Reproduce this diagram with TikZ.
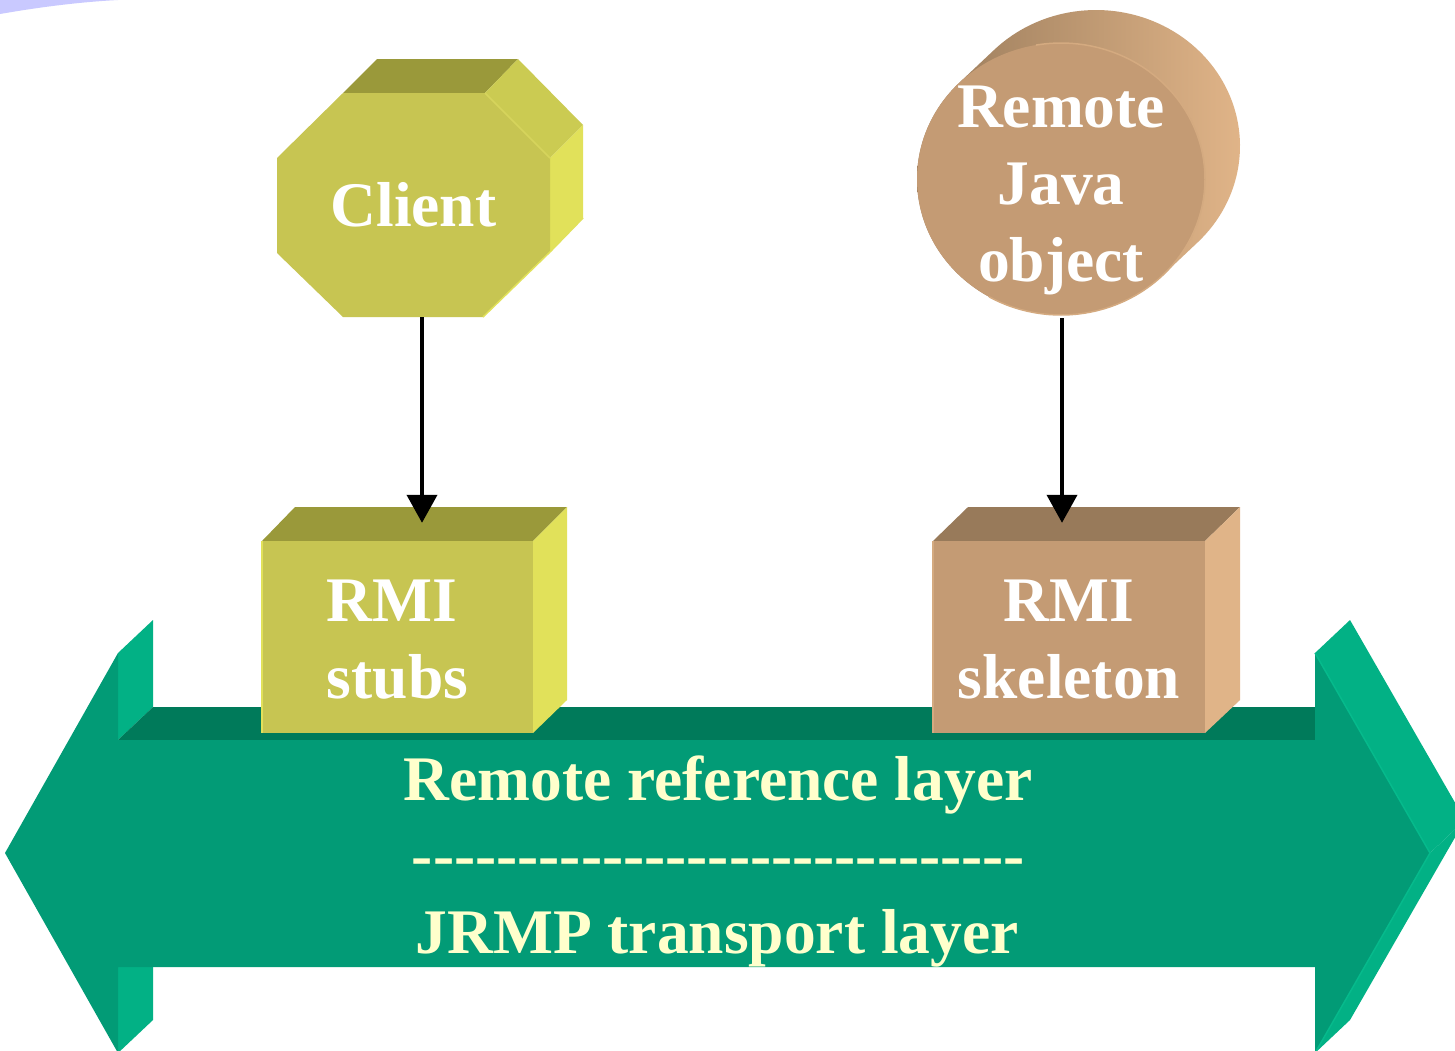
\documentclass[tikz,border=0pt]{standalone}
\usepackage{fontspec}
\setmainfont{Liberation Serif}
\usetikzlibrary{arrows.meta,calc}

% palette
\definecolor{lavender}{RGB}{201,201,255}
\definecolor{olfront}{RGB}{199,197,82}
\definecolor{oltop}{RGB}{154,153,58}
\definecolor{olside}{RGB}{225,225,90}
\definecolor{olbevel}{RGB}{203,203,82}
\definecolor{olrim}{RGB}{214,212,92}
\definecolor{brfront}{RGB}{196,155,116}
\definecolor{brtop}{RGB}{152,122,90}
\definecolor{brside}{RGB}{224,180,136}
\definecolor{brrim}{RGB}{212,170,128}
\definecolor{gfront}{RGB}{2,155,118}
\definecolor{gtop}{RGB}{0,122,90}
\definecolor{gside}{RGB}{2,177,133}
\definecolor{gedge}{RGB}{6,186,140}
\definecolor{layertext}{RGB}{255,255,204}

\tikzset{
  lbl/.style={font=\fontsize{63.5pt}{77pt}\selectfont\bfseries, text=white,
              align=center, inner sep=0pt},
  layerlbl/.style={lbl, text=layertext, anchor=base},
  conn/.style={line width=4pt, -{Triangle[width=30pt,length=28pt]}},
}

\begin{document}
\begin{tikzpicture}[x=1pt,y=-1pt]
\useasboundingbox (0,0) rectangle (1455,1050);
\clip (0,0) rectangle (1455,1050);
\fill[white] (0,0) rectangle (1455,1050);

% corner swoosh
\fill[lavender] (0,0) -- (0,14) .. controls (40,7) and (80,2) .. (118,0) -- cycle;

% ---------- layer arrow (3D, double headed) ----------
% visible depth faces
\fill[gside] (118,653) -- (153,620) -- (153,707) -- (118,740) -- cycle;
\fill[gside] (118,967) -- (153,934) -- (153,1020) -- (118,1053) -- cycle;
\fill[gtop]  (118,740) -- (153,707) -- (1350,707) -- (1315,740) -- cycle;
\fill[gside] (1315,653) -- (1350,620) -- (1465,820) -- (1430,853) -- cycle;
\fill[gside] (1430,853) -- (1465,820) -- (1350,1020) -- (1315,1053) -- cycle;
% front face
\fill[gfront] (5,853) -- (118,653) -- (118,740) -- (1315,740) -- (1315,653)
  -- (1430,853) -- (1315,1053) -- (1315,967) -- (118,967) -- (118,1053) -- cycle;
\draw[gedge, line width=1.5pt] (1315,653) -- (1430,853) -- (1315,1053);

% ---------- client octagon ----------
\fill[oltop] (343,93) -- (377,59) -- (518,59) -- (485,93) -- cycle;
\fill[olbevel] (485,93) -- (518,59) -- (583,125) -- (550,158) -- cycle;
\fill[olside] (550,158) -- (583,125) -- (583,218) -- (550,252) -- cycle;
\fill[olfront] (343,93) -- (485,93) -- (550,158) -- (550,252) -- (483,317)
  -- (343,317) -- (277,253) -- (277,158) -- cycle;
\draw[olrim, line width=1.5pt] (485,93) -- (550,158);
\draw[olside, line width=1.5pt] (550,252) -- (583,218);
\draw[olside, line width=1.5pt] (550,252) -- (483,317);
\node[lbl, minimum width=273pt, minimum height=224pt] (client) at (413.5,205) {Client};

% ---------- remote object cylinder ----------
\shade[left color=brtop, right color=brside]
  (959,83) -- plot[domain=135:-45,samples=80] ({1096+144*cos(\x)},{146-136*sin(\x)})
  -- (1163,275) -- plot[domain=-45:-225,samples=80] ({1061+144*cos(\x)},{179-136*sin(\x)})
  -- cycle;
\fill[brfront] (1061,179) ellipse [x radius=144, y radius=136];
\draw[brrim, line width=1.5pt] plot[domain=100:-120,samples=80] ({1061+144*cos(\x)},{179-136*sin(\x)});
\node[lbl, minimum width=288pt, minimum height=256pt] (rjo) at (1061,190) {Remote\\Java\\object};

% ---------- RMI stubs box ----------
\fill[oltop] (262,541) -- (295,507) -- (567,507) -- (533,541) -- cycle;
\fill[olside] (533,541) -- (567,507) -- (567,700) -- (533,733) -- cycle;
\fill[olfront] (262,541) rectangle (533,733);
\draw[olside, line width=1.5pt] (262,541) -- (262,733);
\node[lbl, align=left, minimum width=271pt, minimum height=192pt] (stubs) at (397.5,640) {RMI\\stubs};

% ---------- RMI skeleton box ----------
\fill[brtop] (933,541) -- (968,507) -- (1240,507) -- (1205,541) -- cycle;
\fill[brside] (1205,541) -- (1240,507) -- (1240,700) -- (1205,733) -- cycle;
\fill[brfront] (933,541) rectangle (1205,733);
\draw[brrim, line width=1.5pt] (933,541) -- (933,733);
\node[lbl, minimum width=272pt, minimum height=192pt] (skel) at (1069,640) {RMI\\skeleton};

% ---------- connectors ----------
\draw[conn] ($(client.south)+(8.5,0)$) -- ($(client.south |- stubs.north)+(8.5,-21)$);
\draw[conn] ($(rjo.south)+(1,0)$) -- ($(rjo.south |- skel.north)+(1,-21)$);

% ---------- layer labels ----------
\node[layerlbl] (reflayer) at (718,800) {Remote reference layer};
\node[layerlbl] (sepline) at (718.5,876) {\foreach \k in {1,...,29}{-\kern0pt}};
\node[layerlbl] (translayer) at (717,953) {JRMP transport layer};
\end{tikzpicture}
\end{document}
